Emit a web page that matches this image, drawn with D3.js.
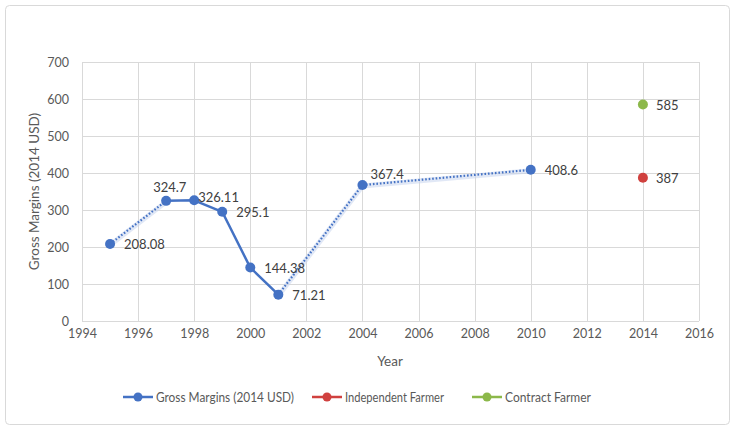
<!DOCTYPE html>
<html><head><meta charset="utf-8">
<script src="https://cdn.jsdelivr.net/npm/d3@7"></script>
<style>body{margin:0;background:#fff}svg{display:block;font-family:Lato,"Open Sans",sans-serif}</style>
</head><body><svg id="c" width="735" height="431"></svg>
<script>
const years = [1995, 1997, 1998, 1999, 2000, 2001, 2004, 2010];
const grossMargins = [208.08, 324.7, 326.11, 295.1, 144.38, 71.21, 367.4, 408.6];
const gmLabels = ["208.08", "324.7", "326.11", "295.1", "144.38", "71.21", "367.4", "408.6"];
// segment styles: solid between consecutive surveyed years, dotted for gaps
const segmentDotted = [true, false, false, false, false, true, true];
const independentYear = [2014], independentValue = [387];
const contractYear = [2014], contractValue = [585];
const xTicks = [1994,1996,1998,2000,2002,2004,2006,2008,2010,2012,2014,2016];
const yTicks = [0,100,200,300,400,500,600,700];
const seriesNames = ["Gross Margins (2014 USD)", "Independent Farmer", "Contract Farmer"];
const colors = ["#4472C4", "#D0413F", "#8CB84A"];

const svg = d3.select("#c");
svg.append("rect").attr("x",5.5).attr("y",5.5).attr("width",724).attr("height",419)
  .attr("rx",4).attr("fill","#fff").attr("stroke","#d9d9d9");

const x = d3.scaleLinear().domain([1994,2016]).range([82,699]);
const y = d3.scaleLinear().domain([0,700]).range([321,62]);

const g = svg.append("g");
g.selectAll(".hg").data(yTicks).join("line").attr("x1",x(1994)).attr("x2",x(2016))
  .attr("y1",d=>y(d)+0.5).attr("y2",d=>y(d)+0.5).attr("stroke","#d9d9d9");
g.selectAll(".vg").data(xTicks).join("line").attr("y1",y(0)).attr("y2",y(700))
  .attr("x1",d=>Math.round(x(d))+0.5).attr("x2",d=>Math.round(x(d))+0.5).attr("stroke","#d9d9d9");

const xAxis = d3.axisBottom(x).tickValues(xTicks).tickFormat(d3.format("d")).tickSize(0).tickPadding(8);
const xa = svg.append("g").attr("transform",`translate(0,${y(0)})`).call(xAxis);
xa.select(".domain").remove();
xa.selectAll("text").attr("fill","#595959").attr("font-size",12.5).attr("font-family","Lato,sans-serif");
const yAxis = d3.axisLeft(y).tickValues(yTicks).tickSize(0).tickPadding(13);
const ya = svg.append("g").attr("transform",`translate(${x(1994)},0)`).call(yAxis);
ya.select(".domain").remove();
ya.selectAll("text").attr("fill","#595959").attr("font-size",12.5).attr("font-family","Lato,sans-serif");

svg.append("text").attr("x",390).attr("y",366).attr("text-anchor","middle")
  .attr("fill","#595959").attr("font-size",13.5).text("Year");
svg.append("text").attr("transform",`translate(39,${(y(0)+y(700))/2}) rotate(-90)`)
  .attr("text-anchor","middle").attr("fill","#595959").attr("font-size",13.5).text("Gross Margins (2014 USD)");

// series lines
const pts = years.map((yr,i)=>({yr, v:grossMargins[i], lab:gmLabels[i]}));
const segs = d3.pairs(pts).map((p,i)=>({a:p[0], b:p[1], dotted:segmentDotted[i]}));
segs.filter(s=>s.dotted).forEach(s=>{
  g.append("line").attr("x1",x(s.a.yr)).attr("y1",y(s.a.v)+1).attr("x2",x(s.b.yr)).attr("y2",y(s.b.v)+1)
    .attr("stroke","#c9d6ee").attr("stroke-width",5).attr("stroke-opacity",0.55);
  g.append("line").attr("x1",x(s.a.yr)).attr("y1",y(s.a.v)).attr("x2",x(s.b.yr)).attr("y2",y(s.b.v))
    .attr("stroke",colors[0]).attr("stroke-width",2.2).attr("stroke-dasharray","1.6,1.9");
});
const line = d3.line().x(d=>x(d.yr)).y(d=>y(d.v));
g.append("path").datum(pts.slice(1,6)).attr("d",line).attr("fill","none")
  .attr("stroke",colors[0]).attr("stroke-width",2.5).attr("stroke-linejoin","round");

g.selectAll(".gm").data(pts).join("circle").attr("cx",d=>x(d.yr)).attr("cy",d=>y(d.v))
  .attr("r",5).attr("fill",colors[0]);

const labelOff = {"208.08":[14,5],"324.7":[-13,-9],"326.11":[4,2],"295.1":[14,5],"144.38":[14,5],"71.21":[14,5],"367.4":[8,-6],"408.6":[14,5]};
g.selectAll(".gl").data(pts).join("text").attr("x",d=>x(d.yr)+labelOff[d.lab][0]).attr("y",d=>y(d.v)+labelOff[d.lab][1])
  .attr("fill","#404040").attr("font-size",13).attr("text-anchor","start")
  .text(d=>d.lab);

const ind = independentYear.map((yr,i)=>({yr,v:independentValue[i]}));
const con = contractYear.map((yr,i)=>({yr,v:contractValue[i]}));
[[ind,colors[1]],[con,colors[2]]].forEach(([data,c])=>{
  g.selectAll(null).data(data).join("circle").attr("cx",d=>x(d.yr)).attr("cy",d=>y(d.v)).attr("r",5).attr("fill",c);
  g.selectAll(null).data(data).join("text").attr("x",d=>x(d.yr)+13).attr("y",d=>y(d.v)+5)
    .attr("fill","#404040").attr("font-size",13).text(d=>d3.format("d")(d.v));
});

// legend
const legX = [123, 312, 472];
const lg = svg.append("g");
seriesNames.forEach((n,i)=>{
  lg.append("line").attr("x1",legX[i]).attr("x2",legX[i]+30).attr("y1",397).attr("y2",397)
    .attr("stroke",colors[i]).attr("stroke-width",2.5);
  lg.append("circle").attr("cx",legX[i]+15).attr("cy",397).attr("r",4.5).attr("fill",colors[i]);
  lg.append("text").attr("x",legX[i]+33).attr("y",402).attr("fill","#595959").attr("font-size",13)
    .attr("textLength", [138,99,86][i]).attr("lengthAdjust","spacingAndGlyphs").text(n);
});
</script></body></html>
